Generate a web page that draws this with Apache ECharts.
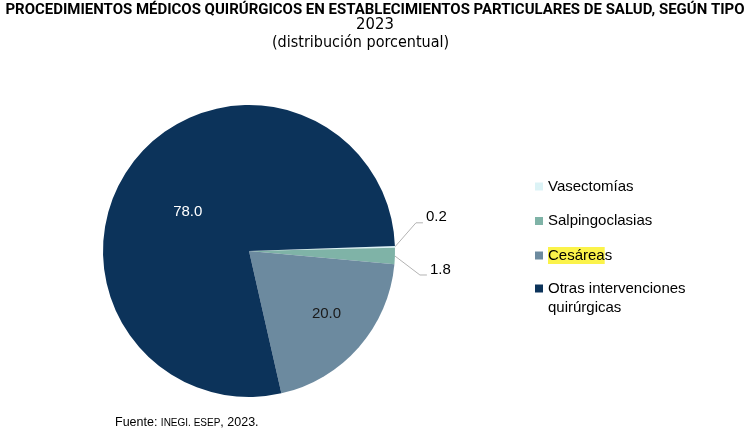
<!DOCTYPE html>
<html><head><meta charset="utf-8">
<script src="https://cdn.jsdelivr.net/npm/echarts@6/dist/echarts.min.js"></script>
<style>html,body{margin:0;padding:0;background:#fff}#c{width:750px;height:432px}</style>
</head><body><div id="c"></div>
<script>
const titleText = 'PROCEDIMIENTOS MÉDICOS QUIRÚRGICOS EN ESTABLECIMIENTOS PARTICULARES DE SALUD, SEGÚN TIPO';
const yearText = '2023';
const subText = '(distribución porcentual)';
const categories = ['Vasectomías', 'Salpingoclasias', 'Cesáreas', 'Otras intervenciones quirúrgicas'];
const values = [0.2, 1.8, 20.0, 78.0];
const colors = ['#dcf3f6', '#7fb3a7', '#6c8a9f', '#0c335a'];
const sourceText = ['Fuente: ', 'INEGI. ESEP', ', 2023.'];

const FONT = 'Liberation Sans, Arial, sans-serif';
const NARROW = '"DejaVu Sans Condensed", Arial, sans-serif';

// pick a font size so the long title fits the reference width (~740px)
const candidates = [['"DejaVu Sans Condensed"', 0.729], ['Roboto', 0.711], ['"Liberation Sans"', 0.716]];
const ctx = document.createElement('canvas').getContext('2d');
let best = null;
candidates.forEach(([f, cap]) => {
  ctx.font = 'bold 100px ' + f;
  const size = 100 * 740 / ctx.measureText(titleText).width;
  const score = size * cap;
  if (!best || score > best.score) best = { f, size, score };
});
const TITLE_FONT = best.f + ', sans-serif';
const TITLE_SIZE = Math.min(16, best.size);

const mainData = categories.map((n, i) => {
  const d = { name: n, value: values[i], itemStyle: { color: colors[i] } };
  if (i < 2) {
    d.label = { show: true, position: 'outside', color: '#000', fontSize: 15 };
    d.labelLine = { show: true, length: 15, length2: 8, lineStyle: { color: '#b3b3b3', width: 1 } };
  } else if (i === 3) {
    d.label = { show: true, position: 'inside', color: '#fff', fontSize: 15 };
  } else {
    d.label = { show: false };
  }
  return d;
});
const overlayData = categories.map((n, i) => ({
  name: n, value: values[i],
  itemStyle: { color: 'rgba(0,0,0,0)' },
  label: { show: i === 2, position: 'inside', color: '#1a1a1a', fontSize: 15 }
}));

const chart = echarts.init(document.getElementById('c'));
chart.setOption({
  animation: false,
  textStyle: { fontFamily: FONT },
  title: [
    { text: titleText, left: 'center', top: 1, padding: 0, textStyle: { fontFamily: TITLE_FONT, fontWeight: 'bold', fontSize: TITLE_SIZE, lineHeight: 18, color: '#000' } },
    { text: yearText, left: 'center', top: 16, padding: 0, textStyle: { fontFamily: NARROW, fontWeight: 'normal', fontSize: 16.5, lineHeight: 18, color: '#000' } },
    { text: subText, left: 272, top: 35, padding: 0, textStyle: { fontFamily: NARROW, fontWeight: 'normal', fontSize: 16, lineHeight: 16, color: '#000' } },
    { text: '{a|' + sourceText[0] + '}{b|' + sourceText[1] + '}{a|' + sourceText[2] + '}', left: 115, top: 415, padding: 0,
      textStyle: { fontWeight: 'normal', rich: { a: { fontFamily: FONT, fontWeight: 'normal', fontSize: 12.5, color: '#000', lineHeight: 16 }, b: { fontFamily: FONT, fontWeight: 'normal', fontSize: 10, color: '#000', lineHeight: 16 } } } }
  ],
  legend: [
    {
      data: categories.slice(0, 3), orient: 'vertical', left: 535, top: 177, padding: 0,
      itemWidth: 8, itemHeight: 8, itemGap: 15.5, icon: 'rect', selectedMode: false,
      formatter: n => n === 'Cesáreas' ? '{hl|Cesárea}s' : n,
      textStyle: { fontFamily: FONT, fontSize: 15, color: '#000', lineHeight: 19,
        rich: { hl: { backgroundColor: '#fbf34a', fontFamily: FONT, fontSize: 15, color: '#000', lineHeight: 19, padding: [1, 0, 1, 0] } } }
    },
    {
      data: categories.slice(3), orient: 'vertical', left: 535, top: 260, padding: 0,
      itemWidth: 8, itemHeight: 8, icon: 'rect', selectedMode: false,
      formatter: n => ' \n' + n.replace(' quirúrgicas', '\nquirúrgicas'),
      textStyle: { fontFamily: FONT, fontSize: 15, color: '#000', lineHeight: 19 }
    }
  ],
  series: [
    {
      type: 'pie', center: [249, 251], radius: [0, 146], startAngle: 2, clockwise: true,
      avoidLabelOverlap: false, silent: true,
      label: { formatter: p => p.value.toFixed(1), fontFamily: FONT },
      data: mainData,
      labelLayout: function (p) {
        if (p.dataIndex === 3) return { dx: -1, dy: 7 };
        if (!p.labelLinePoints || p.dataIndex > 1) return;
        const a = p.labelLinePoints[0];
        const first = p.dataIndex === 0;
        const dy = first ? -24 : 19;
        const ex = a[0] + (first ? 21 : 25);
        const ey = a[1] + dy;
        return { x: ex + 10, y: ey - (first ? 6 : 5), align: 'left', verticalAlign: 'middle',
          labelLinePoints: [a, [ex, ey], [ex + 7, ey]] };
      }
    },
    {
      type: 'pie', center: [249, 251], radius: [0, 200], startAngle: 2, clockwise: true,
      avoidLabelOverlap: false, silent: true,
      label: { formatter: p => p.value.toFixed(1), fontFamily: FONT },
      labelLine: { show: false },
      data: overlayData,
      labelLayout: p => (p.dataIndex === 2 ? { dx: 0, dy: -5 } : undefined)
    }
  ]
});
</script></body></html>
